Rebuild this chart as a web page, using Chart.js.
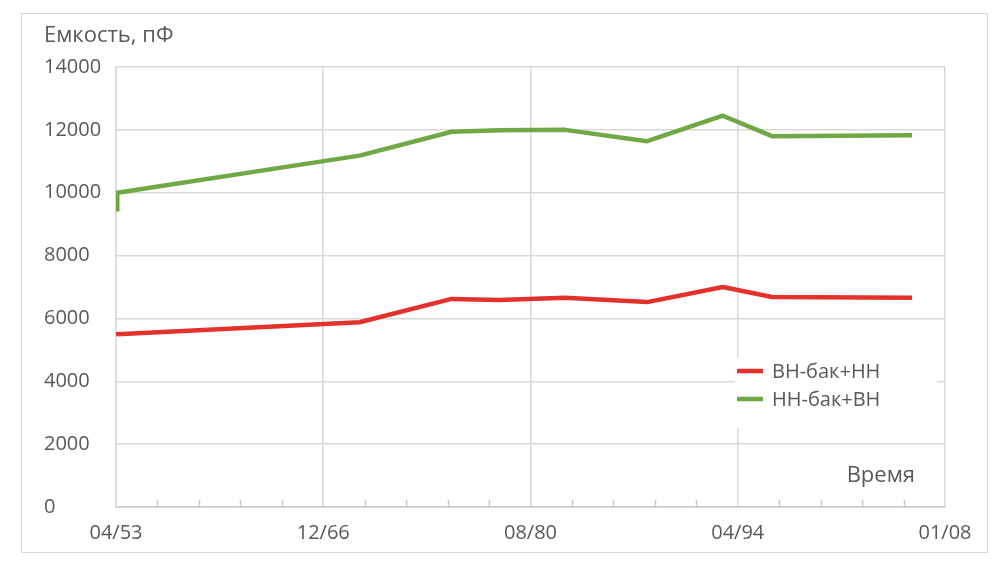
<!DOCTYPE html>
<html>
<head>
<meta charset="utf-8">
<script src="https://cdn.jsdelivr.net/npm/chart.js@4"></script>
<style>
    body { margin: 0; background: #fff; }
    #wrap { width: 1000px; height: 565px; }
</style>
</head>
<body>
<div id="wrap"><canvas id="capChart"></canvas></div>
<script>
// Measurement dates (year-month) and capacitance values, pF
const dates = ['1953-05', '1953-05', '1969-05', '1975-06', '1978-08', '1982-12', '1988-05', '1993-05', '1996-08', '2005-11'];
const vnTankNn = [5450, 5500, 5880, 6620, 6590, 6660, 6520, 7000, 6680, 6660];
const nnTankVn = [9400, 10000, 11180, 11940, 11990, 12000, 11640, 12450, 11800, 11830];

const seriesNames = ['ВН-бак+НН', 'НН-бак+ВН'];
const tickLabels = ['04/53', '12/66', '08/80', '04/94', '01/08'];
const axisStart = '1953-04';
const majorDays = 5000;
const minorPerMajor = 5;
const yMin = 0, yMax = 14000, yStep = 2000;

const textColor = '#595959';
const gridColor = '#d9d9d9';

function toYear(s) {
    const parts = s.split('-');
    return Number(parts[0]) + (Number(parts[1]) - 1) / 12;
}

function points(values) {
    return values.map((v, i) => ({ x: toYear(dates[i]), y: v }));
}

const xMin = toYear(axisStart);
const minorStep = majorDays / 365.25 / minorPerMajor;
const xMax = xMin + minorStep * minorPerMajor * (tickLabels.length - 1);

// Border, titles, minor tick marks and the legend inside the plot
const decorPlugin = {
    id: 'decor',
    beforeDraw(chart) {
        const ctx = chart.ctx;
        ctx.save();
        ctx.strokeStyle = gridColor;
        ctx.lineWidth = 1;
        ctx.strokeRect(21.5, 13.5, 966, 539);
        ctx.restore();
    },
    beforeDatasetsDraw(chart) {
        const ctx = chart.ctx;
        const xs = chart.scales.x;
        const area = chart.chartArea;
        ctx.save();
        ctx.strokeStyle = '#c8c8c8';
        ctx.lineWidth = 1.5;
        xs.ticks.forEach((t, i) => {
            if (i % minorPerMajor === 0) return;
            const px = Math.round(xs.getPixelForValue(t.value)) + 0.5;
            ctx.beginPath();
            ctx.moveTo(px, area.bottom);
            ctx.lineTo(px, area.bottom - 7);
            ctx.stroke();
        });
        ctx.restore();
    },
    afterDraw(chart) {
        const ctx = chart.ctx;
        const area = chart.chartArea;
        ctx.save();
        ctx.fillStyle = textColor;
        ctx.font = "22px 'Open Sans', sans-serif";
        ctx.textBaseline = 'alphabetic';
        ctx.textAlign = 'left';
        ctx.fillText('Емкость, пФ', 44, 42);
        ctx.textAlign = 'right';
        ctx.fillText('Время', area.right - 30, area.bottom - 25);

        // legend
        ctx.font = "20px 'Open Sans', sans-serif";
        const lx = area.right - 210, ly = area.bottom - 149;
        ctx.fillStyle = '#fff';
        ctx.fillRect(lx, ly, 202, 70);
        chart.data.datasets.forEach((ds, i) => {
            const y = ly + 13 + i * 28;
            ctx.strokeStyle = ds.borderColor;
            ctx.lineWidth = ds.borderWidth;
            ctx.beginPath();
            ctx.moveTo(lx + 2, y);
            ctx.lineTo(lx + 28, y);
            ctx.stroke();
            ctx.fillStyle = textColor;
            ctx.textAlign = 'left';
            ctx.textBaseline = 'middle';
            ctx.fillText(ds.label, lx + 37, y + 1);
        });
        ctx.restore();
    }
};

Chart.defaults.font.family = "'Open Sans', sans-serif";
Chart.defaults.font.size = 20;
Chart.defaults.color = textColor;

new Chart(document.getElementById('capChart'), {
    type: 'line',
    data: {
        datasets: [{
            label: seriesNames[0],
            data: points(vnTankNn),
            borderColor: '#e4322b',
            borderWidth: 4.5,
            pointRadius: 0,
            tension: 0
        }, {
            label: seriesNames[1],
            data: points(nnTankVn),
            borderColor: '#70a846',
            borderWidth: 4.5,
            pointRadius: 0,
            tension: 0
        }]
    },
    options: {
        responsive: true,
        maintainAspectRatio: false,
        animation: false,
        layout: { padding: { top: 67, left: 44, right: 55, bottom: 0 } },
        plugins: {
            legend: { display: false },
            tooltip: { enabled: false }
        },
        elements: { line: { borderJoinStyle: 'round', borderCapStyle: 'butt' } },
        scales: {
            x: {
                type: 'linear',
                min: xMin,
                max: xMax,
                afterBuildTicks(scale) {
                    const ticks = [];
                    for (let i = 0; i <= minorPerMajor * (tickLabels.length - 1); i++) {
                        ticks.push({ value: xMin + i * minorStep });
                    }
                    scale.ticks = ticks;
                },
                afterFit(scale) { scale.height = 58; },
                ticks: {
                    autoSkip: false,
                    maxRotation: 0,
                    padding: 14,
                    callback(value, index) {
                        return index % minorPerMajor === 0 ? tickLabels[index / minorPerMajor] : '';
                    }
                },
                grid: {
                    drawTicks: false,
                    lineWidth: 1.5,
                    color(c) {
                        return c.index % minorPerMajor === 0 ? gridColor : 'rgba(0,0,0,0)';
                    }
                },
                border: { color: '#c8c8c8', width: 1.5 }
            },
            y: {
                min: yMin,
                max: yMax,
                afterFit(scale) { scale.width = 72; },
                ticks: {
                    stepSize: yStep,
                    crossAlign: 'far',
                    callback(value) { return String(value); }
                },
                grid: { drawTicks: false, color: gridColor, lineWidth: 1.5 },
                border: { color: gridColor, width: 1.5 }
            }
        }
    },
    plugins: [decorPlugin]
});
</script>
</body>
</html>
